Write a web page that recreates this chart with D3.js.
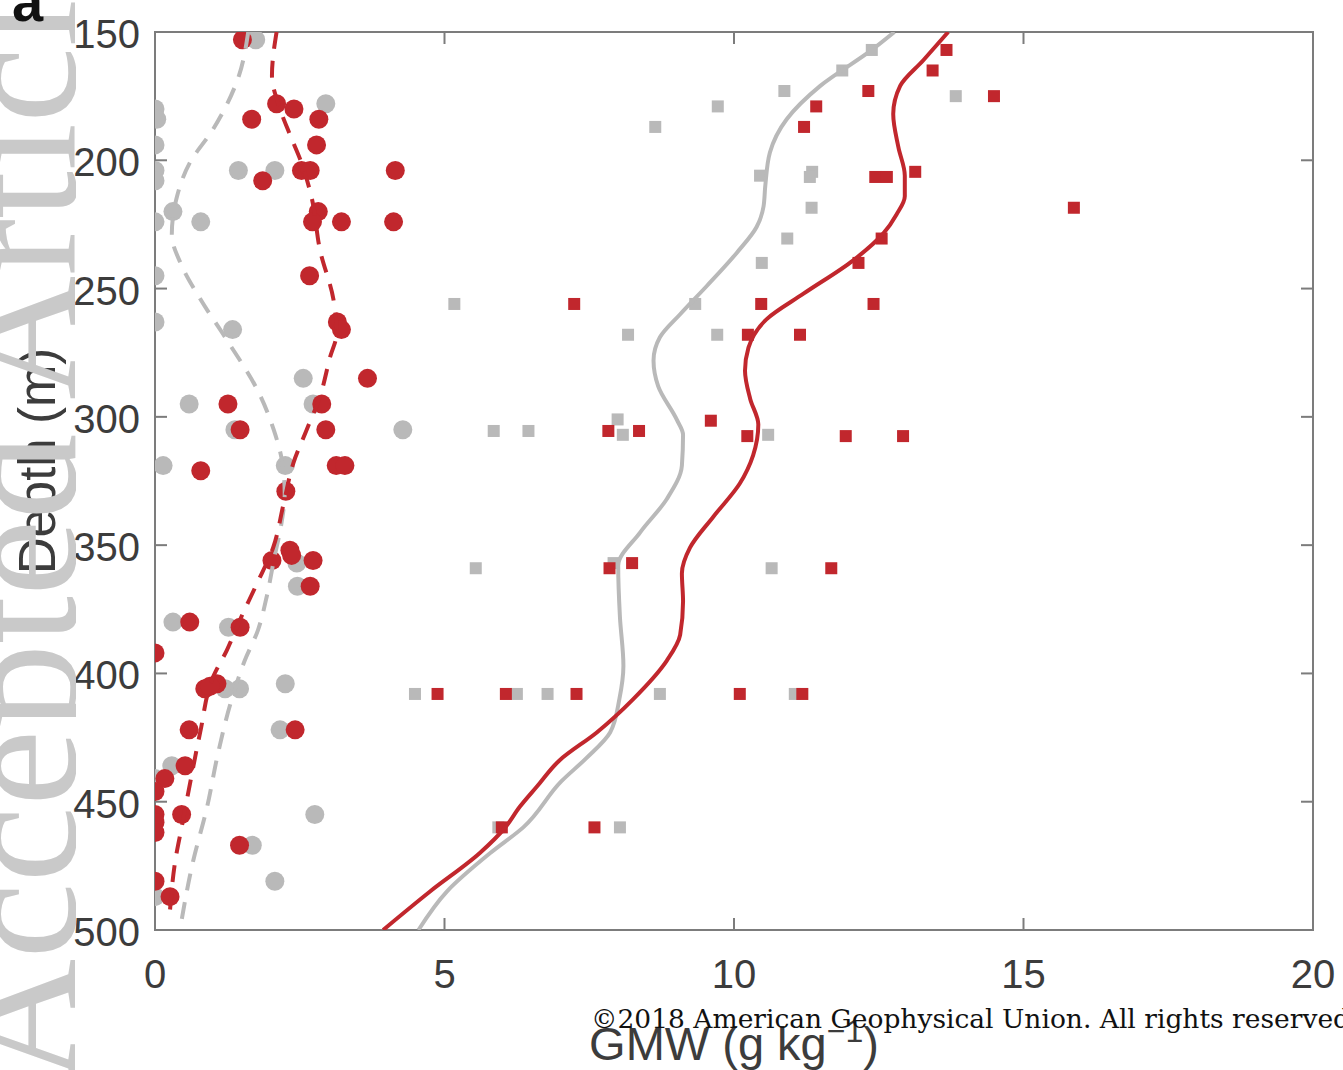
<!DOCTYPE html>
<html>
<head>
<meta charset="utf-8">
<script src="https://cdn.jsdelivr.net/npm/d3@7"></script>
<style>
  body { margin: 0; background: #fff; overflow: hidden; }
  svg { display: block; }
  .tick-label { font-family: "Liberation Sans", Arial, sans-serif; fill: #3c3c3c; }
</style>
</head>
<body>
<div id="chart"></div>
<script>
// ---- data (GMW in g/kg vs depth in m) ----
var grayCircleX = [1.74,0,0.03,0,0,0,0.31,0,0.79,1.44,2.07,2.95,0,0,1.34,2.56,0.59,2.73,1.38,4.28,0.14,2.25,2.45,2.46,0.31,1.27,1.21,1.46,2.25,2.16,0.29,0,2.76,1.68,2.07,0];
var grayCircleDepth = [153,180,184,194,204,208,220,224,224,204,204,178,245,263,266,285,295,295,305,305,319,319,357,366,380,382,406,406,404,422,436,441,455,467,481,487];

var redCircleX = [1.51,2.10,2.40,1.67,2.83,2.79,2.53,2.68,4.15,1.86,2.82,2.72,3.22,4.12,2.67,3.15,3.22,3.67,1.26,2.88,1.47,2.95,0.79,3.13,3.28,2.26,2.33,2.36,2.02,2.73,2.68,0.60,1.47,0,1.07,0.86,0.95,0.59,2.42,0.52,0.17,0,0.46,0,0,0,1.46,0,0.26];
var redCircleDepth = [153,178,180,184,184,194,204,204,204,208,220,224,224,224,245,263,266,285,295,295,305,305,321,319,319,329,352,354,356,356,366,380,382,392,404,406,405,422,422,436,441,446,455,455,458,462,467,481,487];

var graySquareX = [12.38,11.87,10.87,9.72,8.64,10.45,11.35,11.31,11.34,10.92,10.48,5.17,9.33,8.17,9.71,10.59,7.99,8.08,5.85,6.45,13.83,5.54,7.92,10.65,4.49,6.25,6.78,8.72,11.05,5.93,8.03];
var graySquareDepth = [157,165,173,179,187,206,204.5,206.5,218.5,230.5,240,256,256,268,268,307,301,307,305.5,305.5,175,359,357,359,408,408,408,408,408,460,460];

var redSquareX = [12.32,11.42,11.21,12.44,12.64,12.55,12.15,7.24,10.47,12.41,10.24,11.14,13.67,13.43,14.49,13.13,15.87,7.83,8.36,9.60,10.23,11.93,12.92,7.85,8.24,11.68,4.88,6.06,7.28,10.10,11.18,5.99,7.59];
var redSquareDepth = [173,179,187,206.5,206.5,230.5,240,256,256,256,268,268,157,165,175,204.5,218.5,305.5,305.5,301.5,307.5,307.5,307.5,359,357,359,408,408,408,408,408,460,460];

// smoothed profiles
var grayDashDepth = [150,167,188,201,215,229,241,254,270,290,305,318,330,342,355,370,383,395,412,431,453,473,500];
var grayDashX     = [1.61,1.45,1.0,0.6,0.37,0.29,0.46,0.78,1.24,1.78,2.05,2.20,2.24,2.18,2.06,1.93,1.78,1.55,1.30,1.09,0.89,0.66,0.43];

var redDashDepth = [150,167,180,190,201,215,235,254,267,277,292,305,318,334,351,365,379,391,401,423,440,460,473,492];
var redDashX     = [2.10,2.02,2.16,2.33,2.53,2.71,2.85,3.08,3.14,3.02,2.85,2.62,2.39,2.22,2.04,1.76,1.47,1.24,1.01,0.78,0.63,0.46,0.35,0.26];

var graySolidDepth = [150,157,171,184,197,210,218,226,236,249,260,269,278,288,301,307,319,332,345,358,378,397,410,423,433,442,460,470,485,500];
var graySolidX     = [12.77,12.38,11.49,10.91,10.62,10.54,10.51,10.39,10.05,9.53,9.07,8.72,8.61,8.69,9.01,9.12,9.10,8.84,8.38,8.00,8.03,8.09,8.02,7.86,7.45,7.02,6.36,5.79,5.04,4.55];

var redSolidDepth = [150,161,171,182,195,206,214,221,228.5,239,252,262,273,282,293,303,315,326,339,351,361,372,385,395,410,423,434,444,452,460,470,485,500];
var redSolidX     = [13.70,13.27,12.87,12.75,12.84,12.95,12.95,12.81,12.58,12.06,11.20,10.56,10.25,10.19,10.28,10.42,10.33,10.10,9.64,9.24,9.10,9.12,9.07,8.84,8.26,7.63,6.98,6.60,6.30,6.05,5.61,4.75,3.94];

var xTicks = [0,5,10,15,20];
var yTicks = [150,200,250,300,350,400,450,500];

// ---- layout ----
var W = 1343, H = 1070;
var margin = {top: 32, right: 30, bottom: 140, left: 155};
var red = "#c1272d", gray = "#b9b9b9", axisCol = "#7c7c7c";

var svg = d3.select("#chart").append("svg")
  .attr("width", W).attr("height", H);

var x = d3.scaleLinear().domain([0, 20]).range([margin.left, W - margin.right]);
var y = d3.scaleLinear().domain([150, 500]).range([margin.top, H - margin.bottom]);

svg.append("clipPath").attr("id", "plotclip")
  .append("rect")
  .attr("x", x(0)).attr("y", y(150))
  .attr("width", x(20) - x(0)).attr("height", y(500) - y(150));

function pairs(xs, ds) {
  return xs.map(function(v, i) { return {v: v, d: ds[i]}; });
}

// y label (drawn before watermark, which covers part of it)
svg.append("text")
  .attr("transform", "translate(55,461) rotate(-90)")
  .attr("text-anchor", "middle")
  .style("font-family", "Liberation Sans, Arial, sans-serif")
  .style("font-size", "51px")
  .style("fill", "#3c3c3c")
  .text("Depth (m)");

// axes box
var box = svg.append("g");
box.append("rect")
  .attr("x", x(0)).attr("y", y(150))
  .attr("width", x(20) - x(0)).attr("height", y(500) - y(150))
  .attr("fill", "none").attr("stroke", axisCol).attr("stroke-width", 2);

// inward ticks
var tickLen = 12;
xTicks.forEach(function(t) {
  box.append("line").attr("x1", x(t)).attr("x2", x(t))
    .attr("y1", y(500)).attr("y2", y(500) - tickLen)
    .attr("stroke", axisCol).attr("stroke-width", 2);
  box.append("line").attr("x1", x(t)).attr("x2", x(t))
    .attr("y1", y(150)).attr("y2", y(150) + tickLen)
    .attr("stroke", axisCol).attr("stroke-width", 2);
});
yTicks.forEach(function(t) {
  box.append("line").attr("x1", x(0)).attr("x2", x(0) + tickLen)
    .attr("y1", y(t)).attr("y2", y(t))
    .attr("stroke", axisCol).attr("stroke-width", 2);
  box.append("line").attr("x1", x(20)).attr("x2", x(20) - tickLen)
    .attr("y1", y(t)).attr("y2", y(t))
    .attr("stroke", axisCol).attr("stroke-width", 2);
});

// tick labels
svg.selectAll(".xlab").data(xTicks).enter().append("text")
  .attr("class", "tick-label")
  .attr("x", function(d) { return x(d); })
  .attr("y", y(500) + 58)
  .attr("text-anchor", "middle")
  .style("font-size", "40px")
  .text(function(d) { return d; });

svg.selectAll(".ylab").data(yTicks).enter().append("text")
  .attr("class", "tick-label")
  .attr("x", x(0) - 15)
  .attr("y", function(d) { return y(d) + 16; })
  .attr("text-anchor", "end")
  .style("font-size", "40px")
  .text(function(d) { return d; });

// x label
var xl = svg.append("text")
  .attr("x", (x(0) + x(20)) / 2)
  .attr("y", 1060)
  .attr("text-anchor", "middle")
  .style("font-family", "Liberation Sans, Arial, sans-serif")
  .style("font-size", "47px")
  .style("fill", "#3c3c3c");
xl.append("tspan").text("GMW (g kg");
xl.append("tspan").attr("dy", -18).style("font-size", "32px").text("\u22121");
xl.append("tspan").attr("dy", 18).text(")");

// ---- marks ----
var plot = svg.append("g").attr("clip-path", "url(#plotclip)");

plot.selectAll(".gsq").data(pairs(graySquareX, graySquareDepth)).enter().append("rect")
  .attr("x", function(p) { return x(p.v) - 6; })
  .attr("y", function(p) { return y(p.d) - 6; })
  .attr("width", 12).attr("height", 12)
  .attr("fill", gray);

plot.selectAll(".gc").data(pairs(grayCircleX, grayCircleDepth)).enter().append("circle")
  .attr("cx", function(p) { return x(p.v); })
  .attr("cy", function(p) { return y(p.d); })
  .attr("r", 9.5)
  .attr("fill", gray);

plot.selectAll(".rsq").data(pairs(redSquareX, redSquareDepth)).enter().append("rect")
  .attr("x", function(p) { return x(p.v) - 6; })
  .attr("y", function(p) { return y(p.d) - 6; })
  .attr("width", 12).attr("height", 12)
  .attr("fill", red);

plot.selectAll(".rc").data(pairs(redCircleX, redCircleDepth)).enter().append("circle")
  .attr("cx", function(p) { return x(p.v); })
  .attr("cy", function(p) { return y(p.d); })
  .attr("r", 9.5)
  .attr("fill", red);

// profiles are functions of depth, so a monotone-in-y curve keeps them smooth
var line = d3.line()
  .x(function(p) { return x(p.v); })
  .y(function(p) { return y(p.d); })
  .curve(d3.curveMonotoneY);

plot.append("path").datum(pairs(grayDashX, grayDashDepth))
  .attr("d", line).attr("fill", "none").attr("stroke", gray)
  .attr("stroke-width", 4).attr("stroke-dasharray", "17,12");
plot.append("path").datum(pairs(redDashX, redDashDepth))
  .attr("d", line).attr("fill", "none").attr("stroke", red)
  .attr("stroke-width", 4).attr("stroke-dasharray", "17,12");
plot.append("path").datum(pairs(graySolidX, graySolidDepth))
  .attr("d", line).attr("fill", "none").attr("stroke", gray)
  .attr("stroke-width", 4);
plot.append("path").datum(pairs(redSolidX, redSolidDepth))
  .attr("d", line).attr("fill", "none").attr("stroke", red)
  .attr("stroke-width", 4);

// ---- page overlays: watermark, panel letter, copyright ----
svg.append("clipPath").attr("id", "wmclip")
  .append("rect").attr("x", 0).attr("y", 0).attr("width", 76).attr("height", H);

svg.append("g").attr("clip-path", "url(#wmclip)")
  .append("text")
  .attr("transform", "translate(75,1083) rotate(-90)")
  .style("font-family", "Liberation Serif, Times New Roman, serif")
  .style("font-size", "172px")
  .style("fill", "#c9c9c9")
  .text("Accepted Article");

svg.append("text")
  .attr("x", 12).attr("y", 21)
  .style("font-family", "Liberation Sans, Arial, sans-serif")
  .style("font-weight", "bold")
  .style("font-size", "56px")
  .style("fill", "#111")
  .text("a");

svg.append("text")
  .attr("x", 591).attr("y", 1028)
  .style("font-family", "DejaVu Serif, Liberation Serif, serif")
  .style("font-size", "26.5px")
  .style("fill", "#111")
  .text("\u00a92018 American Geophysical Union. All rights reserved.");
</script>
</body>
</html>
